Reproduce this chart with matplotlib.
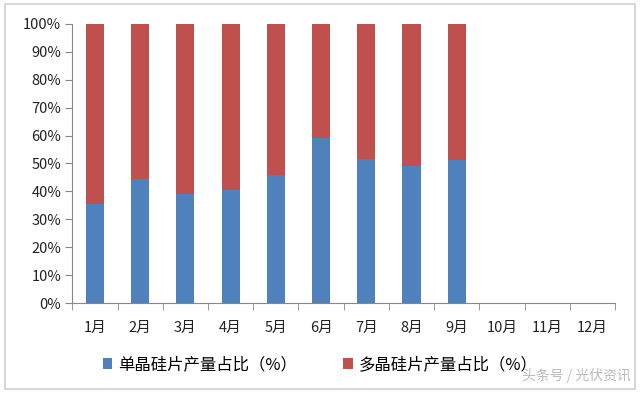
import matplotlib
matplotlib.use("Agg")
import matplotlib.pyplot as plt
from matplotlib.patches import Rectangle
import numpy as np

plt.rcParams['font.family'] = ['Noto Sans CJK SC', 'DejaVu Sans']

months = ["1月", "2月", "3月", "4月", "5月", "6月", "7月", "8月", "9月", "10月", "11月", "12月"]
mono = [35.5, 44.3, 39.1, 40.4, 45.9, 59.0, 51.5, 49.1, 51.3]
multi = [100 - v for v in mono]
yticks = [0, 10, 20, 30, 40, 50, 60, 70, 80, 90, 100]
ylabels = [f"{v}%" for v in yticks]

fig = plt.figure(figsize=(6.4, 3.93), dpi=100)
ax = fig.add_axes([0.113, 0.229, 0.848, 0.71])

x = np.arange(len(mono))
ax.bar(x, mono, width=0.4, color="#4F81BD", label="单晶硅片产量占比（%）")
ax.bar(x, multi, width=0.4, bottom=mono, color="#C0504D", label="多晶硅片产量占比（%）")

ax.set_xlim(-0.5, len(months) - 0.5)
ax.set_ylim(0, 100)
ax.set_yticks(yticks)
ax.set_yticklabels(ylabels, fontsize=10.5, color="#222222")
ax.set_xticks(np.arange(len(months)))
ax.set_xticklabels(months, fontsize=10.5, color="#222222")
ax.set_xticks(np.arange(len(months) + 1) - 0.5, minor=True)
ax.tick_params(axis='x', which='major', length=0, pad=13)
ax.tick_params(axis='x', which='minor', length=5, color="#888888", direction='out')
ax.tick_params(axis='y', length=5, color="#888888", direction='out', pad=3)
for s in ["top", "right"]:
    ax.spines[s].set_visible(False)
for s in ["left", "bottom"]:
    ax.spines[s].set_color("#888888")

leg = fig.legend(loc="center", bbox_to_anchor=(0.5, 0.072), ncol=2, frameon=False,
                 fontsize=11.8, handlelength=0.6, handleheight=0.6, handletextpad=0.35,
                 columnspacing=2.8)

fig.patches.append(Rectangle((0.008, 0.01), 0.984, 0.98, transform=fig.transFigure,
                             fill=False, edgecolor="#d0d0d0", linewidth=1.2))
fig.text(0.985, 0.025, "头条号 / 光伏资讯", ha="right", va="bottom", fontsize=10,
         color="#bbbbbb")

fig.savefig("out.png", dpi=100)
